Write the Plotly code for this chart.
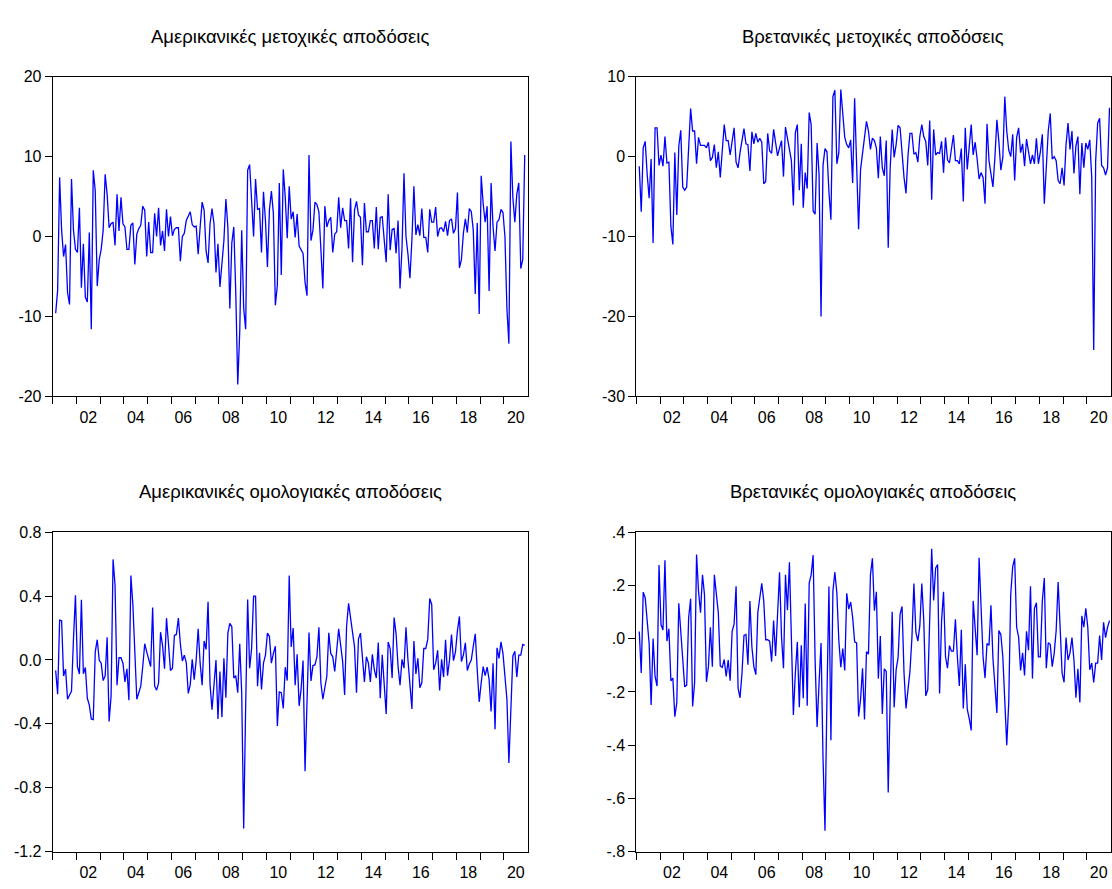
import numpy as np
import pandas as pd
import plotly.graph_objects as go

# ---------------- data (monthly, 2001M02 - 2020M12) ----------------
us_stock = [
    -9.6, -6.7, 7.4, 0.8, -2.5, -1.0, -7.0, -8.5, 7.2, 0.8, -1.6, -2.0, 3.6, -6.4, -0.9, -7.6, -8.2, 0.5,
    -11.6, 8.3, 5.7, -6.2, -2.9, -1.6, 0.8, 7.8, 5.3, 1.1, 1.6, 1.8, -1.1, 5.3, 0.7, 4.9, 1.6, 1.2, -1.6,
    -1.6, 1.4, 1.7, -3.5, 0.3, 1.0, 1.4, 3.8, 3.3, -2.5, 1.8, -2.0, -2.0, 2.9, 0.0, 3.6, -1.1, 0.7, -1.8,
    3.4, 0.0, 2.5, 0.1, 0.9, 1.1, 1.1, -3.1, 0.0, 0.4, 2.0, 2.5, 3.1, 1.5, 1.2, 1.3, -2.2, 1.2, 4.3, 3.3,
    -1.8, -3.3, 1.6, 3.5, 1.6, -4.5, -0.9, -6.3, -2.9, -0.5, 4.7, 1.2, -9.0, -0.8, 1.2, -7.0, -18.5, -11.9,
    0.8, -9.0, -11.6, 8.3, 9.0, 4.9, 0.0, 7.2, 3.4, 3.5, -2.0, 5.6, 2.0, -3.8, 3.3, 5.7, 2.9, -8.6, -6.1,
    6.7, -4.8, 8.4, 4.9, -0.2, 6.3,
    2.2, 3.1, -0.1, 2.8, -1.2, -1.7, -2.1, -5.7, -7.4, 10.2, -0.5, 0.8, 4.3, 4.0, 3.1, -1.6, -6.5, 3.8,
    1.2, 2.0, 2.4, -2.0, 0.3, 0.6, 4.9, 1.1, 3.6, 2.0, 2.0, -1.5, 4.8, -3.2, 3.3, 4.4, 2.7, 2.4, -3.6,
    4.2, 0.6, 0.6, 2.0, 2.0, -1.5, 3.7, -1.6, 2.4, 2.5, -0.4, -3.2, 5.3, -1.7, 0.9, 1.0, -2.1, 2.0, -6.5,
    -1.4, 7.9, 0.0, -2.2, -5.2, -0.4, 6.3, 0.2, 1.5, 0.1, 3.5, -0.1, -0.1, -2.0, 3.4, 1.8, 1.8, 3.7, 0.0,
    1.0, 1.1, 0.6, 1.9, 0.1, 2.0, 2.2, 0.4, 1.0, 5.5, -3.9, -2.9, 0.4, 2.2, 0.5, 3.5, 3.1, 0.8, -7.2, 1.7,
    -9.7, 7.6, 4.1, 1.8, 3.8, -6.8, 6.7, 1.2, -1.8, 1.8, 2.1, 3.4, 3.0, 0.0, -9.0, -13.4, 11.9, 4.9, 1.8,
    5.3, 6.7, -4.0, -2.9, 10.2,
]

uk_stock = [
    -1.2, -6.9, 1.1, 1.9, -2.2, -5.2, -0.3, -10.8, 3.6, 3.6, -1.1, 0.2, -1.2, 2.5, -0.8, -0.7, -8.7, -11.0,
    0.5, -7.3, 1.3, 3.3, -3.8, -4.2, -3.8, 0.5, 6.0, 3.2, 3.2, -0.9, 2.4, 1.4, 1.4, 1.4, 1.1, 1.8, -0.5,
    -0.1, 1.5, -1.4, 0.6, -2.6, 0.7, 4.0, 2.0, 2.0, 0.2, 1.8, 3.6, -0.7, -1.4, 0.5, 2.3, 3.5, 1.6, 1.5,
    -1.8, 3.1, 1.6, 2.9, 1.8, 2.3, 1.8, -3.4, -3.1, 2.9, 0.7, 0.4, 3.4, 1.5, 0.1, 1.1, 2.0, -2.5, 3.7, 2.3,
    0.6, -0.5, -6.1, 3.0, 4.0, -4.2, 1.6, -6.4, -2.0, -4.0, 5.5, 4.0, -6.8, -7.2, 1.7, -2.2, -20.0, -1.1,
    1.0, 0.6, -4.4, -7.9, 7.5, 8.3, -0.9, 0.5, 8.4, 5.2, 2.4, 1.5, 1.1, 2.1, -3.3, 7.3, -0.9, -9.1, -1.6,
    0.4, 2.3, 4.4, 3.2,
    0.9, 2.3, 2.0, 1.1, -2.7, 2.5, -1.4, -2.4, 2.0, -11.4, -1.4, 3.4, -0.1, 1.5, 3.9, 3.6, -0.1, -2.6, -4.6,
    0.1, 2.9, 2.9, 0.3, 0.5, -0.7, 2.5, 4.0, 2.5, 1.9, -1.1, 4.5, -5.4, 3.4, 0.2, 0.5, 0.4, 1.9, -2.0, 2.4,
    -0.4, -0.8, 0.7, 2.7, -0.5, -0.5, -0.9, 1.0, -5.6, 3.6, -1.6, 1.3, 4.0, 0.2, 1.8, -0.3, -2.8, -2.0,
    -2.6, -5.9, 4.1, -0.5, -2.2, -3.8, -0.1, 4.6, 1.9, -1.7, -0.1, 7.5, 3.2, 0.8, 0.0, 2.8, -3.0, 2.4, 3.6,
    0.5, 1.6, -1.2, 2.2, 0.8, -0.9, 0.2, -0.9, 2.3, -0.9, 0.6, 2.8, -5.9, -0.9, 3.2, 5.4, -0.3, 0.0, -0.5,
    -3.0, -3.4, -1.4, -3.6, 1.5, 4.2, 0.9, 3.2, -2.1, 1.3, 2.5, -4.7, 1.7, -1.4, 1.7, 0.9, 2.1, -2.6, -24.2,
    -0.5, 4.2, 4.8, -1.1, -1.4, -2.3, -1.4, 6.1,
]

us_bond = [
    -0.066, -0.215, 0.25, 0.246, -0.10, -0.057, -0.246, -0.22, -0.195, 0.133, 0.406, -0.041, -0.088, 0.377,
    -0.086, -0.047, -0.24, -0.283, -0.369, -0.373, 0.051, 0.127, 0.0, -0.02, -0.129, -0.10, 0.143, -0.385,
    -0.225, 0.63, 0.471, -0.158, 0.014, 0.014, -0.02, -0.137, -0.055, -0.252, 0.529, 0.348, 0.041, -0.246,
    -0.205, -0.164, -0.041, 0.102, 0.051, 0.004, -0.041, 0.328, -0.164, -0.189, -0.143, 0.174, 0.092,
    -0.055, 0.262, 0.102, -0.066, -0.051, 0.154, 0.16, 0.262, 0.102, -0.006, 0.03, -0.016, -0.209, -0.154,
    0.004, -0.123, 0.0, 0.195, -0.02, -0.158, 0.119, 0.066, 0.365, -0.154, -0.311, -0.123, 0.0, -0.369,
    -0.072, -0.359, 0.01, -0.236, 0.168, 0.23, 0.209, -0.113, -0.098, -0.205, 0.102, -0.205, -1.055,
    -0.287, 0.379, -0.051, 0.072, 0.4, 0.4, -0.164, 0.045, -0.184, -0.02, 0.031, 0.168, 0.148, -0.02, 0.041,
    0.086, -0.414, -0.20, -0.205, -0.303, -0.045, -0.129, 0.529,
    0.082, 0.2, -0.158, 0.035, -0.287, -0.184, -0.004, -0.697, -0.287, 0.172, -0.131, -0.035, -0.031, 0.02,
    0.205, -0.143, -0.246, -0.184, -0.102, 0.17, 0.041, 0.02, -0.072, 0.061, 0.195, 0.092, -0.01, -0.219,
    0.215, 0.355, 0.266, 0.184, 0.082, -0.205, 0.133, 0.168, -0.01, -0.137, 0.02, -0.02, -0.137, 0.035,
    -0.061, -0.113, 0.109, -0.24, 0.033, -0.164, -0.338, 0.113, 0.072, -0.113, 0.266, 0.164, -0.041,
    -0.158, 0.004, -0.051, 0.205, 0.0, -0.174, -0.307, 0.119, -0.088, 0.01, -0.174, -0.143, 0.072, 0.072,
    0.129, 0.385, 0.348, -0.061, -0.02, 0.061, -0.191, 0.004, -0.107, 0.127, -0.098, 0.0, 0.16, -0.004,
    0.051, 0.184, 0.273, -0.01, 0.031, 0.107, -0.066, -0.025, 0.0, 0.086, 0.164, -0.061, -0.262, -0.143,
    -0.041, -0.098, -0.045, -0.123, -0.322, -0.02, -0.434, 0.076, 0.01, 0.113, 0.041, -0.102, -0.246,
    -0.645, -0.246, 0.025, 0.055, -0.107, 0.031, 0.031, 0.098, 0.092,
]

uk_bond = [
    0.027, -0.129, 0.175, 0.154, 0.068, -0.018, -0.249, 0.001, -0.142, -0.178, 0.277, 0.053, 0.033, 0.295,
    -0.009, 0.037, -0.158, -0.148, -0.293, -0.24, 0.133, 0.031, -0.068, -0.181, -0.175, 0.08, 0.15, -0.255,
    -0.166, 0.316, 0.178, 0.098, 0.24, 0.166, -0.162, -0.105, 0.043, -0.105, 0.24, 0.154, 0.098, -0.102,
    -0.108, -0.078, -0.142, -0.08, -0.158, 0.028, 0.055, 0.197, -0.185, -0.222, -0.129, 0.012, 0.016,
    -0.098, 0.142, -0.031, -0.105, -0.135, 0.098, 0.154, 0.208, 0.142, -0.004, -0.004, -0.009, -0.086,
    0.068, -0.065, 0.105, 0.25, 0.006, -0.111, 0.24, 0.107, 0.287, -0.031, -0.287, -0.129, -0.012, -0.258,
    -0.025, -0.224, 0.132, -0.252, 0.209, 0.24, 0.314, -0.08, -0.332, -0.166, -0.016, -0.449, -0.722,
    -0.215, 0.196, -0.382, 0.178, 0.25, 0.172, -0.006, -0.107, -0.037, -0.119, 0.171, 0.111, 0.138, 0.08,
    -0.012, -0.016, -0.292, -0.228, -0.111, -0.304, -0.049, -0.058,
    0.24, 0.302, 0.105, 0.176, -0.15, 0.01, -0.283, -0.113, -0.123, -0.578, -0.228, 0.101, -0.258, -0.117,
    -0.07, 0.092, 0.121, -0.129, -0.262, -0.188, -0.123, 0.004, 0.207, 0.025, -0.009, 0.049, 0.207, 0.068,
    -0.215, -0.191, 0.129, 0.338, 0.144, 0.265, 0.279, -0.206, 0.068, 0.176, -0.068, -0.111, -0.026,
    -0.047, -0.047, 0.073, -0.068, -0.178, 0.034, -0.262, -0.096, -0.265, -0.30, -0.345, 0.142, 0.018,
    -0.062, 0.304, 0.092, -0.068, -0.148, -0.018, -0.025, 0.126, -0.074, -0.178, -0.279, 0.031, 0.016,
    -0.068, -0.252, -0.40, -0.24, 0.166, 0.271, 0.302, 0.043, 0.006, -0.119, -0.053, -0.138, 0.028, -0.043,
    0.197, -0.15, 0.114, 0.135, -0.068, -0.068, 0.142, 0.228, -0.111, -0.015, -0.021, -0.105, -0.055,
    0.031, 0.213, 0.043, -0.129, -0.164, 0.004, -0.08, -0.053, 0.004, -0.08, -0.222, -0.113, -0.24, 0.086,
    0.043, 0.114, 0.043, -0.117, -0.092, -0.164, -0.092, -0.092, 0.012, -0.08, 0.062, 0.004, 0.043, 0.068,
]

titles = [
    "Αμερικανικές μετοχικές αποδόσεις",
    "Βρετανικές μετοχικές αποδόσεις",
    "Αμερικανικές ομολογιακές αποδόσεις",
    "Βρετανικές ομολογιακές αποδόσεις",
]

y_ranges = [[-20, 20], [-30, 10], [-1.2, 0.8], [-0.8, 0.4]]
y_tickvals = [
    [-20, -10, 0, 10, 20],
    [-30, -20, -10, 0, 10],
    [-1.2, -0.8, -0.4, 0.0, 0.4, 0.8],
    [-0.8, -0.6, -0.4, -0.2, 0.0, 0.2, 0.4],
]
y_ticktext = [
    ["-20", "-10", "0", "10", "20"],
    ["-30", "-20", "-10", "0", "10"],
    ["-1.2", "-0.8", "-0.4", "0.0", "0.4", "0.8"],
    ["-.8", "-.6", "-.4", "-.2", ".0", ".2", ".4"],
]
x_labels = ["02", "04", "06", "08", "10", "12", "14", "16", "18", "20"]
series = [us_stock, uk_stock, us_bond, uk_bond]


def to_x(n, start="2001-02-01"):
    d = pd.date_range(start, periods=n, freq="MS")
    return d.year + (d.month - 1) / 12.0 + 1 / 24.0


W, H = 1112, 889
# plot-area boxes in page pixels: (left, right, top, bottom)
boxes = [
    (52.7, 527.7, 70, 396),
    (636.3, 1110.5, 70, 396),
    (52.7, 527.7, 534.5, 860),
    (636.3, 1110.5, 534.5, 860),
]
title_y = [29, 29, 493, 493]

fig = go.Figure()
font = "Liberation Sans, Arial, sans-serif"
layout = dict(
    width=W, height=H, autosize=False,
    margin=dict(l=0, r=0, t=0, b=0),
    paper_bgcolor="white", plot_bgcolor="white",
    showlegend=False,
    font=dict(family=font, size=16, color="black"),
    annotations=[],
)

year_ticks = list(range(2001, 2021))
label_pos = [2002.5 + 2 * i for i in range(len(x_labels))]


def px_x(v):
    return v / W


def px_y(v):
    return 1 - v / H


for i, (vals, box) in enumerate(zip(series, boxes)):
    k = "" if i == 0 else str(i + 1)
    l, r, t, b = box
    xd = [px_x(l), min(1.0, px_x(r))]
    yd = [px_y(b), px_y(t)]
    fig.add_trace(go.Scatter(
        x=to_x(len(vals)), y=vals, mode="lines",
        line=dict(color="#0000FF", width=1.3),
        xaxis="x" + k, yaxis="y" + k, hoverinfo="skip",
    ))
    layout["xaxis" + k] = dict(
        domain=xd, anchor="y" + k, range=[2001.0, 2021.0],
        showgrid=False, zeroline=False,
        showline=True, mirror=True, linecolor="black", linewidth=1,
        tickmode="array", tickvals=label_pos, ticktext=x_labels,
        ticks="outside", ticklen=6, tickcolor="rgba(0,0,0,0)",
        tickfont=dict(family=font, size=16, color="black"),
        minor=dict(tickmode="array", tickvals=year_ticks, ticks="outside",
                   ticklen=7, tickwidth=1, tickcolor="black", showgrid=False),
    )
    layout["yaxis" + k] = dict(
        domain=yd, anchor="x" + k, range=y_ranges[i],
        showgrid=False, zeroline=False,
        showline=True, mirror=True, linecolor="black", linewidth=1,
        tickmode="array", tickvals=y_tickvals[i], ticktext=y_ticktext[i],
        ticks="outside", ticklen=7, tickwidth=1, tickcolor="black",
        tickfont=dict(family=font, size=16, color="black"),
    )
    layout["annotations"].append(dict(
        text=titles[i], xref="paper", yref="paper",
        x=px_x((l + r) / 2), y=px_y(title_y[i]),
        xanchor="center", yanchor="middle", showarrow=False,
        font=dict(family=font, size=18.5, color="black"),
    ))

fig.update_layout(**layout)
fig.write_html("out.html")
